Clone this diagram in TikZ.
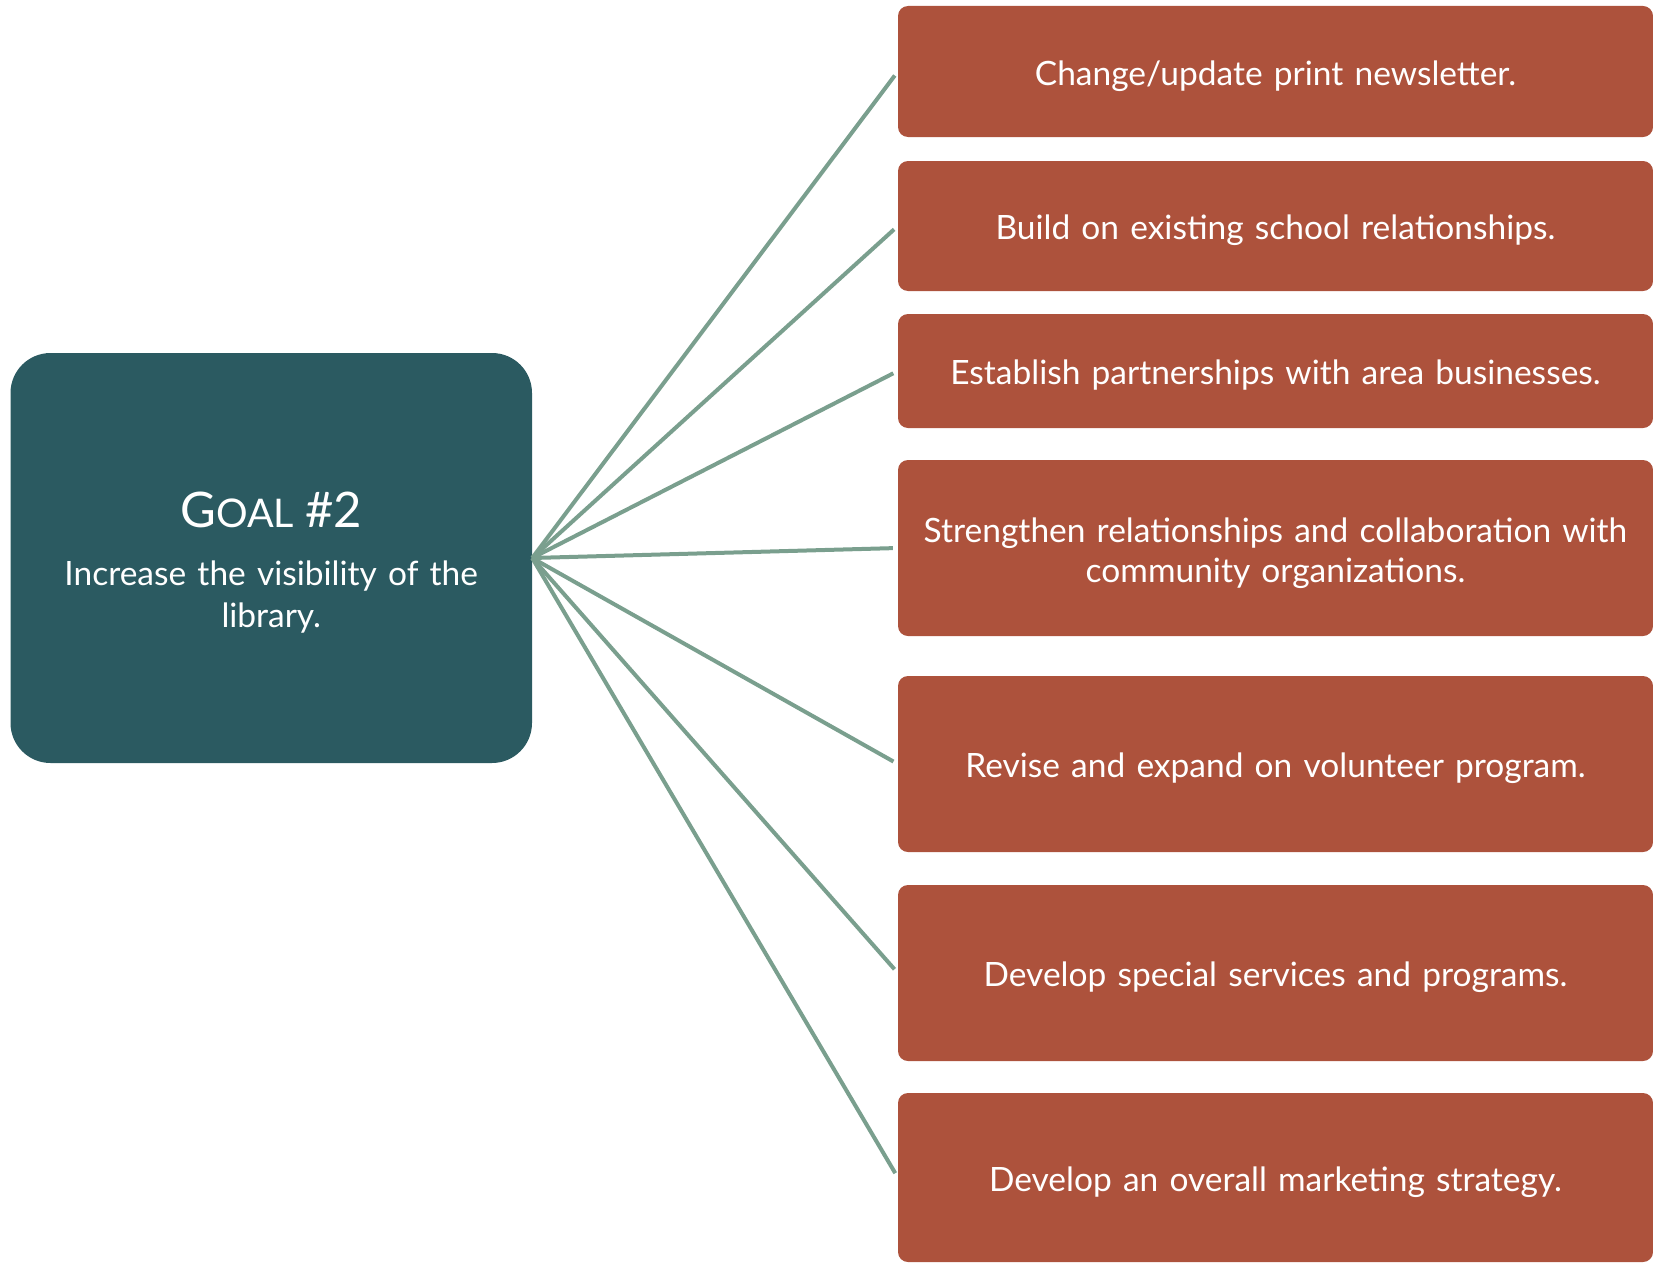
\documentclass[tikz,border=0pt]{standalone}
\usepackage{fontspec}
\setmainfont{Lato}
\definecolor{goalteal}{HTML}{2B5A61}
\definecolor{rust}{HTML}{AD523C}
\definecolor{fanline}{HTML}{7A9F8E}
\tikzset{
  goalbox/.style={fill=goalteal, rounded corners=40pt, text=white, inner sep=0pt,
    minimum width=521.5pt, minimum height=410pt, align=center, text width=500pt,
    text height=45pt, font=\fontsize{33.5}{42}\selectfont},
  taskbox/.style={fill=rust, rounded corners=10pt, text=white, inner sep=0pt,
    minimum width=755pt, align=center, text width=740pt,
    text height=30pt, text depth=3pt,
    font=\fontsize{33.5}{40}\selectfont},
  twoline/.style={text height=28pt, text depth=40pt},
  fan/.style={draw=fanline, line width=4pt, shorten >=5pt}
}
\begin{document}
\begin{tikzpicture}[x=1pt,y=-1pt]
\useasboundingbox (0,0) rectangle (1653,1263);
\node[goalbox] (goal) at (271.25,558) {{\fontsize{49}{58}\selectfont G{\fontsize{39.5}{58}\selectfont OAL} \#2\par}\vspace{15.5pt}Increase the visibility of the\\library.};
\node[taskbox, minimum height=131pt] (b1) at (1275.5,71.5) {Change/update print newsletter.};
\node[taskbox, minimum height=130pt] (b2) at (1275.5,226) {Build on existing school relationships.};
\node[taskbox, minimum height=114pt] (b3) at (1275.5,371) {Establish partnerships with area businesses.};
\node[taskbox, twoline, minimum height=176pt] (b4) at (1275.5,548) {Strengthen relationships and collaboration with\\community organizations.};
\node[taskbox, minimum height=176pt] (b5) at (1275.5,764) {Revise and expand on volunteer program.};
\node[taskbox, minimum height=176pt] (b6) at (1275.5,973) {Develop special services and programs.};
\node[taskbox, minimum height=169pt] (b7) at (1275.5,1177.5) {Develop an overall marketing strategy.};
\foreach \b in {b1,b2,b3,b4,b5,b6,b7}
  \draw[fan] (goal.east) -- (\b.west);
\end{tikzpicture}
\end{document}
